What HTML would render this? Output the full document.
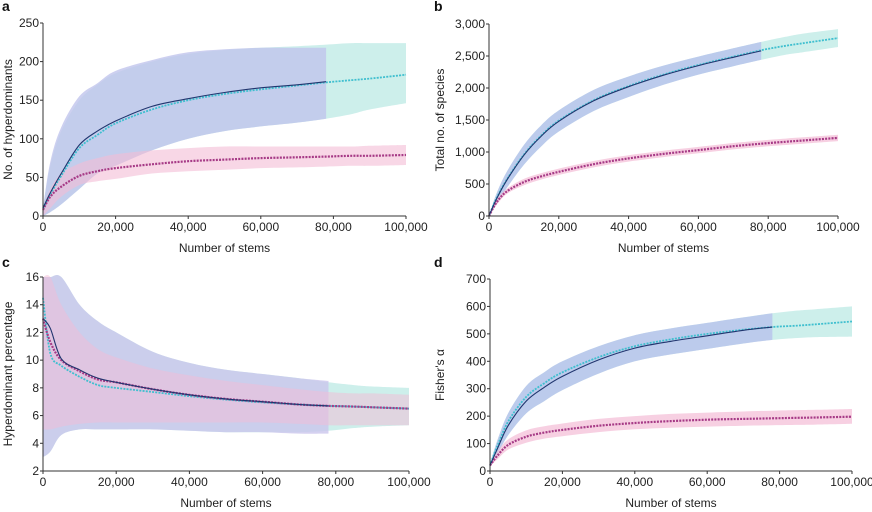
<!DOCTYPE html>
<html><head><meta charset="utf-8"><style>
html,body{margin:0;padding:0;background:#fff;}
svg{display:block;font-family:"Liberation Sans",Arial,sans-serif;}
.tick{font-size:12px;fill:#222;}
.ttl{font-size:12px;fill:#222;}
.lab{font-size:14px;font-weight:bold;fill:#111;}
</style></head><body>
<svg id="chart" width="872" height="512" viewBox="0 0 872 512"></svg>
<script>
// ---- shared x values (number of stems) ----
const xsFull = [0,2000,5000,10000,15000,20000,30000,40000,50000,60000,70000,78000,85000,90000,100000];
const xsBlue = [0,2000,5000,10000,15000,20000,30000,40000,50000,60000,70000,78000];
const xTickLabels = ["0","20,000","40,000","60,000","80,000","100,000"];
const xTickValues = [0,20000,40000,60000,80000,100000];

// ---- panel a: no. of hyperdominants ----
const aBlue = [10,30,55,92,110,123,142,152,160,166,170,174];
const aCyan = [10,28,52,88,105,120,138,150,158,164,169,173,176,178,183];
const aMag = [8,25,38,52,58,62,67,71,73,75,76,77,78,78,79];
const aBlueUp = [10,70,115,155,172,188,202,212,216,218,218,218];
const aBlueLo = [0,5,15,35,55,65,85,100,110,116,121,126];
const aCyanUp = [10,65,110,150,170,185,200,210,215,218,220,222,224,224,224];
const aCyanLo = [0,5,15,35,55,65,85,100,110,116,121,126,132,138,146];
const aMagUp = [10,35,55,68,75,80,85,88,90,90,90,90,90,91,92];
const aMagLo = [0,10,25,40,45,48,55,58,60,62,63,64,65,65,66];
const aTicks = [0,50,100,150,200,250];

// ---- panel b: total no. of species ----
const bBlue = [0,250,550,950,1250,1480,1800,2020,2200,2350,2480,2580];
const bCyan = [0,260,560,960,1260,1490,1810,2030,2210,2360,2490,2590,2660,2700,2780];
const bMag = [0,200,380,530,620,690,810,900,970,1030,1090,1130,1160,1180,1220];
const bBlueUp = [0,330,680,1110,1420,1650,1970,2180,2350,2490,2620,2720];
const bBlueLo = [0,170,430,800,1090,1320,1640,1860,2050,2210,2340,2440];
const bCyanUp = [0,330,680,1110,1420,1650,1970,2180,2350,2490,2620,2720,2800,2850,2920];
const bCyanLo = [0,170,430,800,1090,1320,1640,1860,2050,2210,2340,2440,2520,2560,2640];
const bMagUp = [0,240,420,580,670,740,860,950,1020,1080,1140,1180,1210,1230,1270];
const bMagLo = [0,160,340,480,570,640,760,850,920,980,1040,1080,1110,1130,1170];
const bTicks = [0,500,1000,1500,2000,2500,3000];
const bTickLabels = ["0","500","1,000","1,500","2,000","2,500","3,000"];

// ---- panel c: hyperdominant percentage ----
const cBlue = [13,12.3,10.1,9.3,8.7,8.4,7.9,7.5,7.2,7.0,6.8,6.7];
const cCyan = [14.5,10.5,9.6,8.8,8.2,8.0,7.7,7.4,7.15,6.95,6.8,6.7,6.65,6.6,6.5];
const cMag = [13,11.3,10.0,9.2,8.6,8.4,7.9,7.5,7.2,7.0,6.8,6.7,6.65,6.6,6.5];
const cBlueUp = [16,16,16,14,12.8,12,10.6,9.8,9.3,9.0,8.7,8.5];
const cBlueLo = [3,3.4,4.6,5.0,5.0,5.0,5.0,4.9,4.8,4.8,4.7,4.7];
const cCyanUp = [16,16,16,14,12.8,12,10.6,9.8,9.3,9.0,8.7,8.4,8.2,8.1,8.0];
const cCyanLo = [3,3.4,4.6,5.0,5.0,5.0,5.0,4.9,4.8,4.8,4.8,4.9,5.1,5.2,5.3];
const cMagUp = [16,16,14,12,10.8,10.2,9.4,8.9,8.5,8.2,7.9,7.7,7.6,7.6,7.5];
const cMagLo = [5,5,5.2,5.4,5.5,5.5,5.5,5.5,5.5,5.5,5.4,5.3,5.3,5.3,5.3];
const cTicks = [2,4,6,8,10,12,14,16];

// ---- panel d: Fisher's alpha ----
const dBlue = [20,80,165,255,305,345,405,448,473,493,513,525];
const dCyan = [20,90,180,270,320,360,415,455,480,500,515,525,530,535,545];
const dMag = [20,55,95,125,140,150,165,175,182,187,190,192,194,195,198];
const dBlueUp = [25,110,210,310,360,400,455,495,520,540,560,575];
const dBlueLo = [15,60,130,210,255,295,355,400,425,445,465,478];
const dCyanUp = [25,110,210,310,360,400,455,495,520,540,560,575,585,590,600];
const dCyanLo = [15,60,130,210,255,295,355,400,425,445,465,478,485,488,490];
const dMagUp = [22,70,115,148,163,173,190,200,208,213,217,220,222,223,226];
const dMagLo = [18,42,78,103,118,127,142,152,158,162,165,167,168,169,172];
const dTicks = [0,100,200,300,400,500,600,700];

const NS="http://www.w3.org/2000/svg";
const svg=document.getElementById('chart');
function mk(tag,attrs,parent){const e=document.createElementNS(NS,tag);for(const k in attrs)e.setAttribute(k,attrs[k]);(parent||svg).appendChild(e);return e;}

function smooth(pts){
  if(pts.length<2)return '';
  let d='M'+pts[0][0].toFixed(1)+','+pts[0][1].toFixed(1);
  for(let i=0;i<pts.length-1;i++){
    const p0=pts[Math.max(0,i-1)],p1=pts[i],p2=pts[i+1],p3=pts[Math.min(pts.length-1,i+2)];
    const c1=[p1[0]+(p2[0]-p0[0])/6,p1[1]+(p2[1]-p0[1])/6];
    const c2=[p2[0]-(p3[0]-p1[0])/6,p2[1]-(p3[1]-p1[1])/6];
    d+='C'+c1[0].toFixed(1)+','+c1[1].toFixed(1)+' '+c2[0].toFixed(1)+','+c2[1].toFixed(1)+' '+p2[0].toFixed(1)+','+p2[1].toFixed(1);
  }
  return d;
}

function panel(cfg){
  const g=mk('g',{});
  
  
  const X=v=>cfg.x0+(v/100000)*(cfg.x1-cfg.x0);
  const Y=v=>cfg.y0+(v-cfg.ymin)/(cfg.ymax-cfg.ymin)*(cfg.y1-cfg.y0);
  const clip=v=>Math.max(cfg.ymin,Math.min(cfg.ymax,v));
  function band(xs,up,lo,fill,op,name){
    const top=xs.map((x,i)=>[X(x),Y(clip(up[i]))]);
    const bot=xs.map((x,i)=>[X(x),Y(clip(lo[i]))]).reverse();
    const d=smooth(top)+'L'+bot[0][0]+','+bot[0][1]+smooth(bot).replace(/^M/,'L')+'Z';
    const p=mk('path',{d:d,fill:fill,'fill-opacity':op},g);
    
    
  }
  function line(xs,ys,color,w,name,dots){
    const pts=xs.map((x,i)=>[X(x),Y(clip(ys[i]))]);
    const p=mk('path',{d:smooth(pts),fill:'none',stroke:color,'stroke-width':w,'stroke-dasharray':dots?'2 1.2':'none'},g);
    
    
  }
  band(xsFull,cfg.cyanUp,cfg.cyanLo,'#c4ece8',0.85,'cyan-band');
  band(xsBlue,cfg.blueUp,cfg.blueLo,cfg.blueFill,0.8,'blue-band');
  band(xsFull,cfg.magUp,cfg.magLo,'#f4bcd6',cfg.magOp,'magenta-band');
  line(xsFull,cfg.cyan,'#3fbfcf',1.8,'cyan-line',true);
  line(xsFull,cfg.mag,'#a63a86',2.2,'magenta-line',true);
  line(xsBlue,cfg.blue,'#20356e',1.1,'blue-line',false);
  const ax=mk('path',{d:'M'+cfg.x0+','+(cfg.y1)+'V'+cfg.y0+'H'+cfg.x1,fill:'none',stroke:'#333','stroke-width':1},g);
   
  cfg.ticks.forEach((t,i)=>{
    mk('line',{x1:cfg.x0-3,x2:cfg.x0,y1:Y(t),y2:Y(t),stroke:'#333'},g);
    const tx=mk('text',{x:cfg.x0-4,y:Y(t)+4,'text-anchor':'end',class:'tick'},g);
    tx.textContent=cfg.tickLabels?cfg.tickLabels[i]:String(t);
    
    
  });
  xTickValues.forEach((t,i)=>{
    mk('line',{x1:X(t),x2:X(t),y1:cfg.y0,y2:cfg.y0+3,stroke:'#333'},g);
    const tx=mk('text',{x:X(t),y:cfg.y0+15,'text-anchor':'middle',class:'tick'},g);
    tx.textContent=xTickLabels[i];
    
    
  });
  const xt=mk('text',{x:(cfg.x0+cfg.x1)/2,y:cfg.y0+36,'text-anchor':'middle',class:'ttl'},g);
  xt.textContent='Number of stems';
   
  const ym=(cfg.y0+cfg.y1)/2;
  const yt=mk('text',{x:cfg.ytx,y:ym,'text-anchor':'middle',class:'ttl',transform:'rotate(-90 '+cfg.ytx+' '+ym+')'},g);
  yt.textContent=cfg.ytitle;
   
  const lb=mk('text',{x:cfg.lx,y:cfg.ly,class:'lab'},g);
  lb.textContent=cfg.id;
   
}

panel({id:'a',x0:43,x1:406,y0:216,y1:23,ymin:0,ymax:250,ticks:aTicks,ytitle:'No. of hyperdominants',ytx:12,lx:2,ly:11,blueFill:'#c0c4ec',
  blue:aBlue,cyan:aCyan,mag:aMag,blueUp:aBlueUp,blueLo:aBlueLo,cyanUp:aCyanUp,cyanLo:aCyanLo,magUp:aMagUp,magLo:aMagLo,magOp:0.6});
panel({id:'b',x0:489,x1:838,y0:216,y1:24,ymin:0,ymax:3000,ticks:bTicks,tickLabels:bTickLabels,ytitle:'Total no. of species',ytx:444,lx:434,ly:11,blueFill:'#b8c2ec',
  blue:bBlue,cyan:bCyan,mag:bMag,blueUp:bBlueUp,blueLo:bBlueLo,cyanUp:bCyanUp,cyanLo:bCyanLo,magUp:bMagUp,magLo:bMagLo,magOp:0.7});
panel({id:'c',x0:43,x1:409,y0:471,y1:277,ymin:2,ymax:16,ticks:cTicks,ytitle:'Hyperdominant percentage',ytx:12,lx:2,ly:267,blueFill:'#cbc6ec',
  blue:cBlue,cyan:cCyan,mag:cMag,blueUp:cBlueUp,blueLo:cBlueLo,cyanUp:cCyanUp,cyanLo:cCyanLo,magUp:cMagUp,magLo:cMagLo,magOp:0.5});
panel({id:'d',x0:490,x1:852,y0:471,y1:279,ymin:0,ymax:700,ticks:dTicks,ytitle:"Fisher's \u03b1",ytx:444,lx:434,ly:267,blueFill:'#b8c2ec',
  blue:dBlue,cyan:dCyan,mag:dMag,blueUp:dBlueUp,blueLo:dBlueLo,cyanUp:dCyanUp,cyanLo:dCyanLo,magUp:dMagUp,magLo:dMagLo,magOp:0.7});
</script>
</body></html>
